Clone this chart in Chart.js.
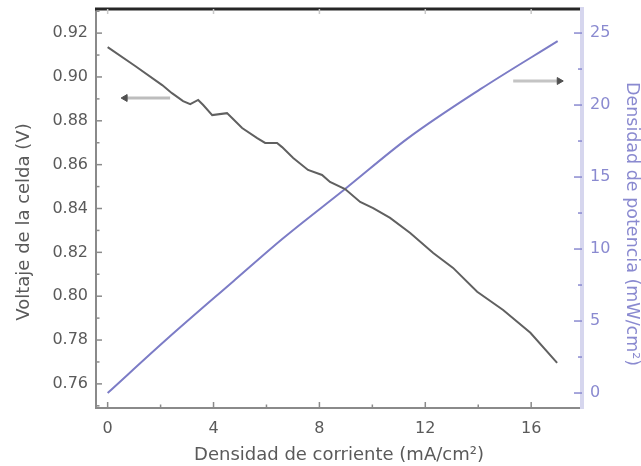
<!DOCTYPE html>
<html>
<head>
<meta charset="utf-8">
<script src="https://cdn.jsdelivr.net/npm/chart.js@4/dist/chart.umd.min.js"></script>
<style>
  html, body { margin: 0; padding: 0; background: #fff; }
  #wrap { width: 641px; height: 466px; }
</style>
</head>
<body>
<div id="wrap"><canvas id="c" width="641" height="466"></canvas></div>
<script>
// Polarization curve: current density (mA/cm²) vs cell voltage (V)
const currentDensity = [0, 1.04, 2.06, 2.43, 2.85, 3.12, 3.42, 3.61, 3.95, 4.51, 4.70, 5.08, 5.65, 5.95, 6.40, 6.59, 7.01, 7.57, 8.10, 8.40, 8.97, 9.54, 10.03, 10.67, 11.43, 12.30, 13.05, 13.96, 14.94, 15.97, 16.98];
const cellVoltage    = [0.9136, 0.905, 0.8963, 0.8926, 0.889, 0.8876, 0.8895, 0.8872, 0.8826, 0.8835, 0.8813, 0.8767, 0.8721, 0.8699, 0.8699, 0.868, 0.863, 0.8576, 0.8553, 0.8521, 0.8489, 0.843, 0.8402, 0.8357, 0.8288, 0.8197, 0.8129, 0.802, 0.7937, 0.7833, 0.7696];

// Power density curve (mW/cm²)
const powerCurrent = [0, 2.24, 4.74, 6.63, 8.97, 11.35, 14.08, 17.0];
const powerDensity = [0, 3.75, 7.75, 10.75, 14.17, 17.7, 21.1, 24.44];

// Arrows pointing each curve to its axis
const voltArrowX  = [0.66, 2.36];
const voltArrowY  = [0.8904, 0.8904];
const powerArrowX = [15.32, 17.06];
const powerArrowY = [21.67, 21.67];

// Tick values
const xTicks     = [0, 4, 8, 12, 16];
const xMinor     = [2, 6, 10, 14];
const voltTicks  = [0.76, 0.78, 0.80, 0.82, 0.84, 0.86, 0.88, 0.90, 0.92];
const voltMinor  = [0.75, 0.77, 0.79, 0.81, 0.83, 0.85, 0.87, 0.89, 0.91, 0.93];
const powerTicks = [0, 5, 10, 15, 20, 25];
const powerMinor = [2.5, 7.5, 12.5, 17.5, 22.5];

const FONT = "'DejaVu Sans', sans-serif";
const GREY = '#5a5a5a';
const BLUE = '#7c7cc6';
const BLUE_LIGHT = '#8a8ad0';

const pairs = (xs, ys) => xs.map((v, i) => ({ x: v, y: ys[i] }));

// Inward tick marks, top frame line and side axis titles
const framePlugin = {
  id: 'framePlugin',
  afterDraw(chart) {
    const { ctx, chartArea: a, scales } = chart;
    const { x, y, y2 } = scales;
    ctx.save();

    // top frame
    ctx.strokeStyle = '#262626';
    ctx.lineWidth = 3;
    ctx.beginPath();
    ctx.moveTo(a.left - 1, a.top);
    ctx.lineTo(a.right - 2, a.top);
    ctx.stroke();

    const seg = (x1, y1, x2, y2p) => { ctx.beginPath(); ctx.moveTo(x1, y1); ctx.lineTo(x2, y2p); ctx.stroke(); };

    // left axis ticks
    ctx.strokeStyle = '#8a8a8a';
    ctx.lineWidth = 1.5;
    voltTicks.forEach(v => { const p = y.getPixelForValue(v); seg(a.left, p, a.left + 6, p); });
    voltMinor.forEach(v => { const p = y.getPixelForValue(v); if (p > a.top + 2 && p < a.bottom) seg(a.left, p, a.left + 3.5, p); });

    // bottom axis ticks
    xTicks.forEach(v => { const p = x.getPixelForValue(v); seg(p, a.bottom, p, a.bottom - 6); });
    xMinor.forEach(v => { const p = x.getPixelForValue(v); seg(p, a.bottom, p, a.bottom - 3.5); });

    // faint mirrored ticks on top
    ctx.strokeStyle = '#c8c8c8';
    xTicks.forEach(v => { const p = x.getPixelForValue(v); seg(p, a.top, p, a.top + 5); });

    // right axis ticks
    ctx.strokeStyle = BLUE_LIGHT;
    powerTicks.forEach(v => { const p = y2.getPixelForValue(v); seg(a.right, p, a.right - 8, p); });
    powerMinor.forEach(v => { const p = y2.getPixelForValue(v); seg(a.right, p, a.right - 4, p); });

    // side titles
    ctx.textAlign = 'center';
    ctx.textBaseline = 'middle';
    ctx.font = `18px ${FONT}`;
    ctx.fillStyle = GREY;
    ctx.save();
    ctx.translate(24, 222);
    ctx.rotate(-Math.PI / 2);
    ctx.fillText('Voltaje de la celda (V)', 0, 0);
    ctx.restore();

    ctx.font = `17.5px ${FONT}`;
    ctx.fillStyle = BLUE_LIGHT;
    ctx.save();
    ctx.translate(632, 224);
    ctx.rotate(Math.PI / 2);
    ctx.fillText('Densidad de potencia (mW/cm²)', 0, 0);
    ctx.restore();

    ctx.restore();
  }
};

const noEdgePad = s => { s.paddingTop = 0; s.paddingBottom = 0; s.paddingLeft = 0; s.paddingRight = 0; };

new Chart(document.getElementById('c'), {
  type: 'line',
  data: {
    datasets: [
      {
        label: 'Voltaje',
        data: pairs(currentDensity, cellVoltage),
        yAxisID: 'y',
        borderColor: '#606060',
        borderWidth: 2,
        pointRadius: 0,
        tension: 0
      },
      {
        label: 'Potencia',
        data: pairs(powerCurrent, powerDensity),
        yAxisID: 'y2',
        borderColor: BLUE,
        borderWidth: 2,
        pointRadius: 0,
        cubicInterpolationMode: 'monotone'
      },
      {
        label: 'flecha voltaje',
        data: pairs(voltArrowX, voltArrowY),
        yAxisID: 'y',
        borderColor: '#bdbdbd',
        borderWidth: 3,
        pointStyle: 'triangle',
        pointRadius: [4, 0],
        pointRotation: -90,
        pointBackgroundColor: '#505050',
        pointBorderColor: '#505050',
        pointBorderWidth: 1
      },
      {
        label: 'flecha potencia',
        data: pairs(powerArrowX, powerArrowY),
        yAxisID: 'y2',
        borderColor: '#c4c4c4',
        borderWidth: 3,
        pointStyle: 'triangle',
        pointRadius: [0, 4],
        pointRotation: 90,
        pointBackgroundColor: '#505050',
        pointBorderColor: '#505050',
        pointBorderWidth: 1
      }
    ]
  },
  options: {
    responsive: false,
    animation: false,
    layout: { padding: { top: 9, left: 0, right: 0, bottom: 0 } },
    plugins: { legend: { display: false }, tooltip: { enabled: false } },
    scales: {
      x: {
        type: 'linear',
        position: 'bottom',
        min: -0.44,
        max: 17.92,
        afterBuildTicks: s => { s.ticks = xTicks.map(v => ({ value: v })); },
        afterFit: s => { s.height = 58; noEdgePad(s); },
        grid: { display: false, drawTicks: false },
        border: { display: true, color: '#8a8a8a', width: 2 },
        ticks: { color: GREY, font: { family: FONT, size: 16 }, padding: 11, maxRotation: 0 },
        title: {
          display: true,
          text: 'Densidad de corriente (mA/cm²)',
          color: GREY,
          font: { family: FONT, size: 18, lineHeight: 1 },
          padding: { top: 0, bottom: 2 }
        }
      },
      y: {
        type: 'linear',
        position: 'left',
        min: 0.749,
        max: 0.931,
        afterBuildTicks: s => { s.ticks = voltTicks.map(v => ({ value: v })); },
        afterFit: s => { s.width = 96; noEdgePad(s); },
        grid: { display: false, drawTicks: false },
        border: { display: true, color: '#8a8a8a', width: 2 },
        ticks: { color: GREY, font: { family: FONT, size: 16 }, padding: 8, callback: v => v.toFixed(2) }
      },
      y2: {
        type: 'linear',
        position: 'right',
        min: -1.04,
        max: 26.67,
        afterBuildTicks: s => { s.ticks = powerTicks.map(v => ({ value: v })); },
        afterFit: s => { s.width = 59; noEdgePad(s); },
        grid: { display: false, drawTicks: false },
        border: { display: true, color: '#d6d6ee', width: 4 },
        ticks: { color: BLUE_LIGHT, font: { family: FONT, size: 16 }, padding: 8 }
      }
    }
  },
  plugins: [framePlugin]
});
</script>
</body>
</html>
